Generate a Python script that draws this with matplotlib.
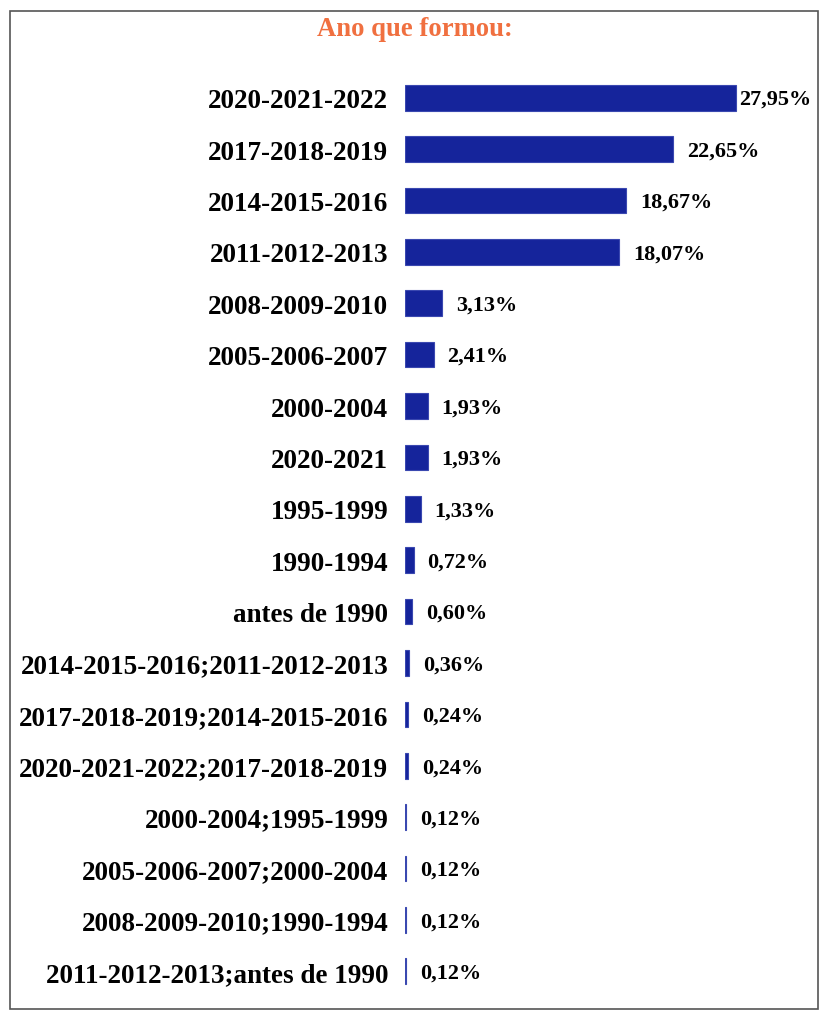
import matplotlib.pyplot as plt
from matplotlib.patches import Rectangle

# Data
categories = [
    '2020-2021-2022', '2017-2018-2019', '2014-2015-2016', '2011-2012-2013',
    '2008-2009-2010', '2005-2006-2007', '2000-2004', '2020-2021',
    '1995-1999', '1990-1994', 'antes de 1990',
    '2014-2015-2016;2011-2012-2013', '2017-2018-2019;2014-2015-2016',
    '2020-2021-2022;2017-2018-2019', '2000-2004;1995-1999',
    '2005-2006-2007;2000-2004', '2008-2009-2010;1990-1994',
    '2011-2012-2013;antes de 1990',
]
values = [27.95, 22.65, 18.67, 18.07, 3.13, 2.41, 1.93, 1.93, 1.33, 0.72,
          0.60, 0.36, 0.24, 0.24, 0.12, 0.12, 0.12, 0.12]
value_labels = ['27,95%', '22,65%', '18,67%', '18,07%', '3,13%', '2,41%',
                '1,93%', '1,93%', '1,33%', '0,72%', '0,60%', '0,36%',
                '0,24%', '0,24%', '0,12%', '0,12%', '0,12%', '0,12%']

plt.rcParams['font.family'] = ['Liberation Serif', 'DejaVu Serif']
plt.rcParams['font.weight'] = 'bold'

W, H = 819, 1012
fig = plt.figure(figsize=(W / 100, H / 100), dpi=100)

# outer frame
fig.patches.append(Rectangle((10 / W, 1 - 1010 / H), 808 / W, 998 / H,
                             transform=fig.transFigure, fill=False,
                             edgecolor='#555555', linewidth=1.2))

fig.text(415 / W, 1 - 30 / H, 'Ano que formou:', ha='center', va='center',
         fontsize=19.2, fontweight='bold', color='#f07040')

ax = fig.add_axes([405 / W, 1 - 998 / H, 413 / W, 925 / H])
pos = list(range(len(categories)))
ax.barh(pos, values, height=0.5, color='#15249b', edgecolor='#3a48b0',
        linewidth=0.8)
ax.set_xlim(0, 413 / 11.84)
ax.set_ylim(len(categories) - 0.5, -0.5)

ax.set_yticks(pos)
ax.set_yticklabels(categories, fontsize=19.5, fontweight='bold')
ax.tick_params(axis='y', length=0, pad=12)
ax.set_xticks([])
for s in ax.spines.values():
    s.set_visible(False)

for i, (v, lab) in enumerate(zip(values, value_labels)):
    off = 2 if v == max(values) else 10
    ax.annotate(lab, (v, i), xytext=(off, -1), textcoords='offset points',
                ha='left', va='center', fontsize=16, fontweight='bold')

fig.savefig('out.png', dpi=100)
